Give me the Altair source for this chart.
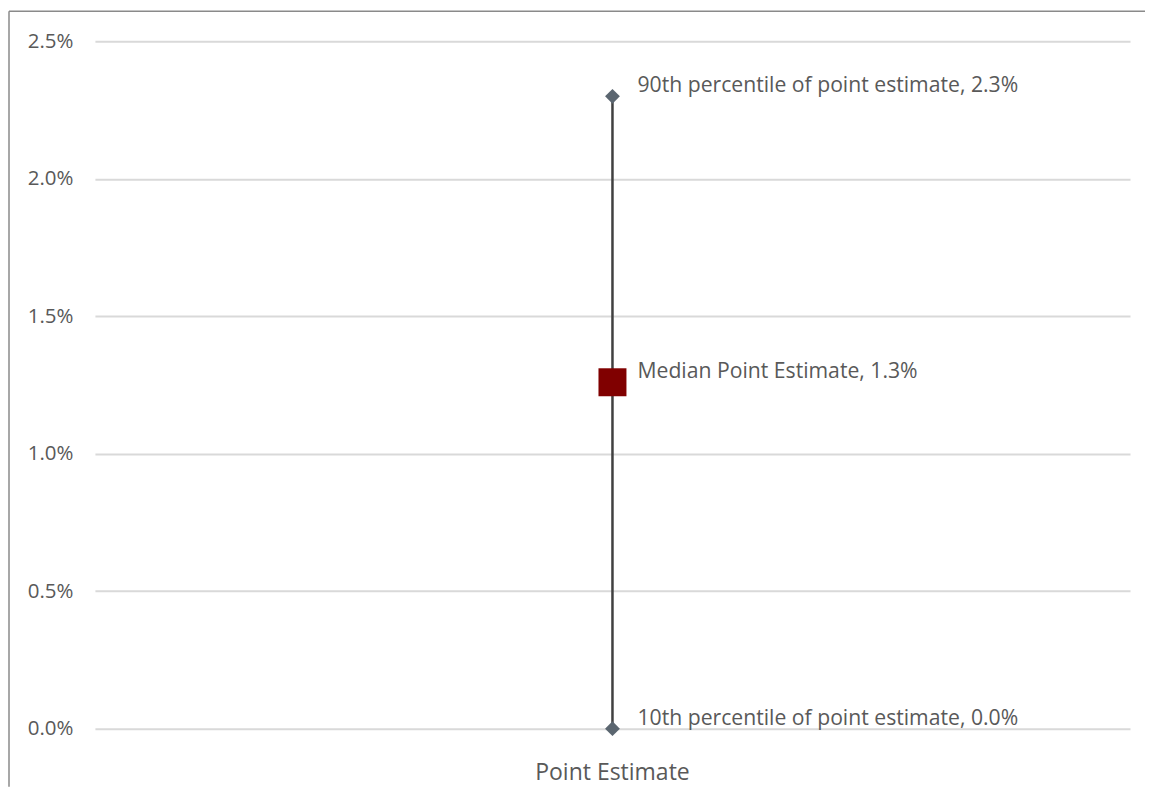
import altair as alt
import pandas as pd

# Data
category = ["Point Estimate"]
point_names = ["90th percentile of point estimate", "Median Point Estimate", "10th percentile of point estimate"]
point_values = [0.023, 0.0126, 0.0]
point_kind = ["pct", "median", "pct"]
y_ticks = [0.0, 0.005, 0.01, 0.015, 0.02, 0.025]

df = pd.DataFrame({
    "cat": category * len(point_names),
    "name": point_names,
    "value": point_values,
    "kind": point_kind,
})
df["label"] = [f"{n}, {v*100:.1f}%" for n, v in zip(point_names, point_values)]

rng = pd.DataFrame({"cat": category, "low": [min(point_values)], "high": [max(point_values)]})

W, H = 1036, 688
FONT = "Open Sans"
TXT = "#595959"

xenc = alt.X("cat:N", title=None,
             axis=alt.Axis(domain=False, ticks=False, grid=False, labelAngle=0,
                           labelFontSize=23, labelColor=TXT, labelFont=FONT, labelPadding=33))
yscale = alt.Scale(domain=[0, 0.025], nice=False, zero=True)

base = alt.Chart(df)

line = alt.Chart(rng).mark_rule(color="#404040", strokeWidth=2.5).encode(
    x=xenc,
    y=alt.Y("low:Q", scale=yscale, title=None,
            axis=alt.Axis(values=y_ticks, format=".1%", domain=False, ticks=False,
                          grid=True, gridColor="#d9d9d9", gridWidth=2,
                          labelFontSize=20.5, labelColor=TXT, labelFont=FONT, labelPadding=22)),
    y2="high:Q",
)

pct = base.transform_filter(alt.datum.kind == "pct").mark_point(
    shape="diamond", filled=True, size=220, color="#5b6670", opacity=1
).encode(x="cat:N", y=alt.Y("value:Q", scale=yscale))

med = base.transform_filter(alt.datum.kind == "median").mark_point(
    shape="square", filled=True, size=784, color="#800000", opacity=1
).encode(x="cat:N", y=alt.Y("value:Q", scale=yscale))

labels = base.mark_text(align="left", baseline="middle", dx=25, dy=-10,
                        fontSize=21.2, font=FONT, color=TXT).encode(
    x="cat:N", y=alt.Y("value:Q", scale=yscale), text="label:N")

# Chart border (top and left edges visible in the reference)
border_top = alt.Chart(rng).mark_rule(color="#8a8a8a", strokeWidth=1.5).encode(
    x=alt.value(-86), x2=alt.value(W + 15), y=alt.value(-30))
border_left = alt.Chart(rng).mark_rule(color="#8a8a8a", strokeWidth=1.5).encode(
    x=alt.value(-86), y=alt.value(-30), y2=alt.value(H + 58))

chart = alt.layer(line, pct, med, labels, border_top, border_left).properties(
    width=W, height=H,
    background="white",
    padding={"left": 0, "top": 2, "right": 0, "bottom": 0},
).configure_view(stroke=None)

chart.save("out.html", embed_options={"renderer": "svg", "actions": False})
